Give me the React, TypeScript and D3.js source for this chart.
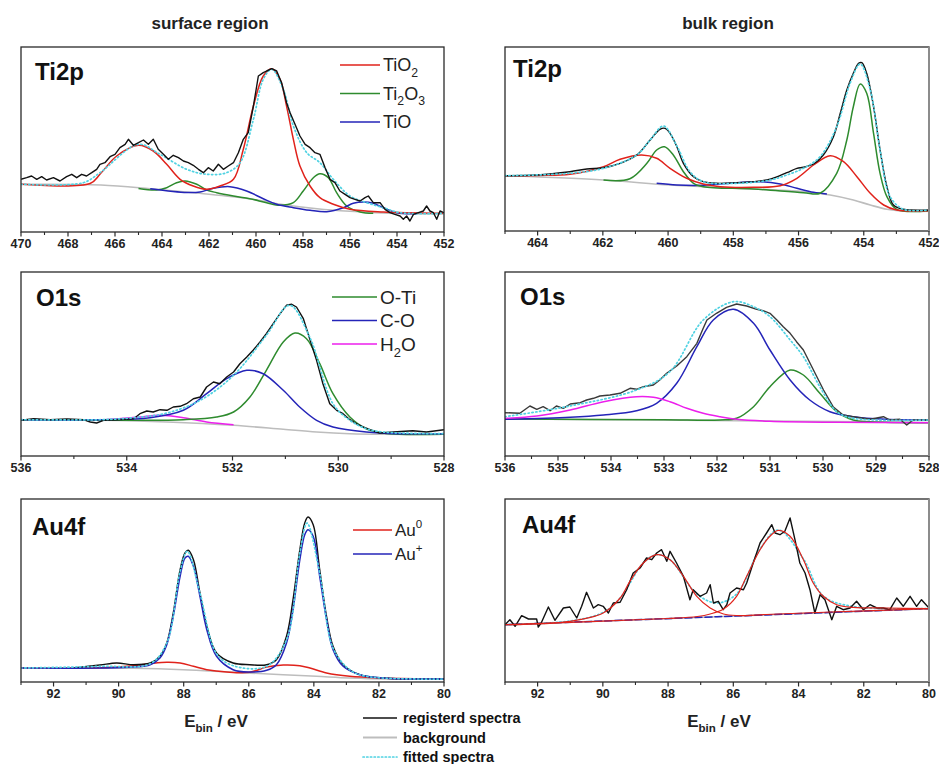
import React from "react";
import * as d3 from "d3";

type Pt = [number, number];

// ---------- surface Ti2p ----------
const surfTi2pBackground: Pt[] = [[470,47.7],[466.6,47],[464.5,43.3],[462.4,38.7],[460.3,33.3],[458.8,27.3],[457.4,23.3],[456.0,20.7],[454.6,19],[452,18]];
const surfTi2pTiO2: Pt[] = [[470,47.7],[467.06,48.5],[466.64,57.7],[465.93,76],[465.0,86.7],[464.37,81],[463.8,67.7],[463.23,52.7],[462.67,46],[462.1,42.7],[461.53,46],[460.96,52.7],[460.54,82.7],[460.11,126],[459.69,156],[459.33,163.3],[458.98,152.7],[458.7,126],[458.41,92.7],[458.13,66],[457.7,46],[457.28,34.3],[456.71,27.7],[456.0,22.7],[454.58,20],[452,18.7]];
const surfTi2pTi2O3: Pt[] = [[465,43.5],[464.23,42],[463.8,44.3],[463.38,49.3],[463.02,51],[462.52,47.7],[462.1,42],[461.67,39.3],[460.96,36],[460.26,33.3],[459.55,29.3],[458.98,26.7],[458.41,29.3],[457.99,41],[457.56,54.3],[457.28,58.3],[456.92,54.3],[456.57,39.3],[456.14,26],[455.57,20],[455.01,18.7]];
const surfTi2pTiO: Pt[] = [[464.5,43.3],[462.95,39.5],[462.38,40],[461.82,43.7],[461.11,45.3],[460.4,41],[459.69,33.3],[459.12,27.7],[458.41,24.3],[457.7,21.7],[456.99,20.3],[456.28,24.3],[455.86,28.7],[455.43,30],[455.01,28.7],[454.58,24.3],[454.01,19.3],[453.16,18.3]];
const surfTi2pFit: Pt[] = [[470,47.7],[467.35,49.3],[466.64,59.3],[465.0,87.7],[464.09,77.7],[462.95,62.7],[462.1,57.7],[461.25,59.3],[460.68,69.3],[460.11,112.7],[459.69,152.7],[459.33,162.7],[458.84,142.7],[458.41,106],[457.84,79.3],[457.28,69.3],[456.71,52.7],[456.0,36],[455.29,29.3],[454.58,24.3],[453.87,19.3],[452,18.7]];
const surfTi2pRegistered: Pt[] = [[470.0,52.7],[469.76,54.3],[469.55,56],[469.33,52.7],[469.12,55.3],[468.91,52],[468.62,54.3],[468.34,51],[468.06,55.3],[467.84,57.7],[467.63,54.3],[467.42,57.7],[467.21,56],[466.99,59.3],[466.78,62.7],[466.64,67.7],[466.43,69.3],[466.21,75.3],[466.0,77.7],[465.79,84.3],[465.57,87.7],[465.43,92.7],[465.22,86.7],[465.0,89.3],[464.79,92],[464.58,87.7],[464.37,92.7],[464.16,82.7],[463.94,77.7],[463.73,72.7],[463.52,76.7],[463.3,74.3],[463.09,71],[462.88,69.3],[462.67,66.7],[462.45,62.7],[462.24,59.3],[462.03,64.3],[461.82,61],[461.6,67.7],[461.39,62.7],[461.18,66],[460.96,69.3],[460.75,79.3],[460.54,92.7],[460.33,99.3],[460.11,126],[459.9,156],[459.69,159.3],[459.55,161],[459.33,163.3],[459.12,161],[458.91,149.3],[458.7,129.3],[458.55,119.3],[458.34,107.7],[458.13,96],[457.91,87.7],[457.7,84.3],[457.49,79.3],[457.28,77.7],[457.06,64.3],[456.85,52.7],[456.64,49.3],[456.43,41],[456.21,37.7],[456.0,34.3],[455.79,32.7],[455.57,31],[455.36,34.3],[455.22,36],[455.01,29.3],[454.72,29.3],[454.51,22.7],[454.3,19.3],[454.09,17.7],[453.87,16],[453.73,12.7],[453.59,16],[453.45,11],[453.3,17.7],[453.09,19.3],[452.88,21],[452.74,26],[452.6,21],[452.45,19.3],[452.31,12.7],[452.17,21],[452.0,19.3]];

// ---------- bulk Ti2p ----------
const bulkTi2pBackground: Pt[] = [[465,55.3],[461.98,51],[459.94,46],[457.89,42.7],[455.85,39.3],[455.03,36],[454.32,31],[453.8,26],[453.29,21.7],[452.78,20],[452,19.7]];
const bulkTi2pTiO2: Pt[] = [[465,55.3],[464,55.6],[463.01,56.7],[461.98,64.3],[461.47,71.7],[460.81,76],[460.35,72.7],[459.94,62.7],[459.43,52.7],[458.92,47],[458.4,44.3],[457.38,43.7],[456.56,45.3],[456.05,52.7],[455.54,66],[455.03,75.3],[454.62,69.3],[454.21,54.3],[453.8,37.7],[453.39,26],[452.99,21],[452,20.3]];
const bulkTi2pTi2O3: Pt[] = [[461.98,51],[461.17,52.3],[460.65,67.7],[460.35,81],[460.11,84.3],[459.84,76],[459.53,59.3],[459.22,47.7],[458.92,44.3],[457.38,42],[455.85,38.3],[455.34,37.7],[454.83,57.7],[454.52,91],[454.32,124.3],[454.11,147],[453.91,137.7],[453.7,97.7],[453.5,57.7],[453.29,34.3],[452.99,21.7],[452,20.3]];
const bulkTi2pTiO: Pt[] = [[460.35,47.7],[459.73,46],[458.92,45.7],[457.89,48.3],[457.18,49.3],[456.56,47],[456.05,42.7],[455.54,38.7],[455.13,37]];
const bulkTi2pFit: Pt[] = [[465,55.3],[463.01,57.7],[461.98,62.7],[460.96,76],[460.55,91],[460.14,105],[459.73,85],[459.33,59.3],[458.92,49.3],[457.89,47.7],[456.87,51],[456.36,56],[455.85,62.7],[455.34,74.3],[454.83,104.3],[454.42,147.7],[454.11,167],[453.8,141],[453.5,81],[453.19,34.3],[452.78,21.7],[452,21]];
const bulkTi2pRegistered: Pt[] = [[465,55.3],[464.03,56],[463.01,59.3],[462.49,62],[461.98,63.3],[461.47,67.7],[460.96,76],[460.55,91],[460.25,101.7],[460.09,102.7],[459.94,97.7],[459.73,84.3],[459.53,67.7],[459.22,54.3],[458.92,49.3],[458.51,47.7],[457.89,48.3],[457.38,49.3],[456.87,51.7],[456.36,58.3],[456.05,62.7],[455.85,63.7],[455.54,67],[455.24,76],[454.93,94.3],[454.72,117.7],[454.52,141],[454.32,157.7],[454.16,167.7],[454.06,168.3],[453.91,157.7],[453.7,124.3],[453.5,81],[453.29,44.3],[453.09,26],[452.78,21.7],[452,21]];

// ---------- surface O1s ----------
const surfO1sBackground: Pt[] = [[536,36.3],[534.5,35.7],[533.24,34],[531.98,30.7],[531.04,26.7],[530.41,24],[529.78,22.3],[529.15,21.7],[528,21.7]];
const surfO1sOTi: Pt[] = [[536,36.3],[533.87,35.7],[532.93,36.3],[532.3,39],[531.98,44],[531.67,59],[531.36,85.7],[531.04,114],[530.82,123],[530.6,117.3],[530.35,92.3],[530.1,62.3],[529.78,39],[529.47,27.3],[529.15,23],[528.84,21.7],[528,21.7]];
const surfO1sCO: Pt[] = [[536,36.3],[534.5,36.3],[533.56,38.3],[532.93,45.7],[532.49,62.3],[532.11,77.3],[531.73,85.7],[531.42,82.3],[531.04,65.7],[530.73,49],[530.41,35.7],[530.1,29],[529.47,24],[528.84,22.3],[528,22.3]];
const surfO1sH2O: Pt[] = [[534.8,36],[534.31,36.5],[533.75,39],[533.37,40.7],[532.93,38.3],[532.49,34],[531.98,31.2]];
const surfO1sFit: Pt[] = [[536,36.3],[534.5,36.3],[533.87,38.3],[533.24,43],[532.61,55.7],[531.98,80.7],[531.36,120.7],[530.92,150.7],[530.54,119],[530.1,52.3],[529.78,35.7],[529.47,27.3],[529.15,24],[528,22.3]];
const surfO1sRegistered: Pt[] = [[536,35.7],[535.76,37.3],[535.45,36.3],[535.13,37],[534.82,36.3],[534.69,34],[534.57,33],[534.44,35.7],[534.19,36.3],[533.87,37.3],[533.75,42.3],[533.62,45],[533.5,44],[533.37,46.3],[533.24,45.7],[533.12,49],[532.99,49.7],[532.87,52.3],[532.74,57.3],[532.61,59],[532.49,69],[532.36,74],[532.24,72.3],[532.11,79],[531.98,84],[531.86,92.3],[531.73,99],[531.61,105.7],[531.48,114],[531.36,122.3],[531.23,132.3],[531.1,142.3],[530.98,150.7],[530.88,151.7],[530.79,149],[530.66,137.3],[530.54,117.3],[530.41,95.7],[530.29,72.3],[530.16,52.3],[530.03,45.7],[529.91,42.3],[529.78,36.3],[529.66,32.3],[529.53,29],[529.4,26.3],[529.22,23],[528.96,24],[528.59,25.3],[528.33,24],[528,26.3]];

// ---------- bulk O1s ----------
const bulkO1sBackground: Pt[] = [[536,37],[533.5,36.2],[531,35],[528,33.5]];
const bulkO1sOTi: Pt[] = [[536,37],[533,36.2],[531.94,36],[531.63,37.7],[531.31,49.3],[531.0,69.3],[530.62,86],[530.37,81],[530.06,62.7],[529.74,44.3],[529.43,36],[529.11,34.3],[528,33.3]];
const bulkO1sCO: Pt[] = [[536,36.7],[534.77,38.7],[534.14,41],[533.52,45.3],[533.14,52.7],[532.76,72.7],[532.38,109.3],[532.07,136],[531.69,146.7],[531.31,132.7],[531.0,106],[530.62,76],[530.25,56],[529.87,44.3],[529.43,39.3],[528.8,36.7],[528,36]];
const bulkO1sH2O: Pt[] = [[536,37.7],[535.4,40],[534.77,46],[534.14,54.3],[533.52,59.3],[533.2,58.7],[532.89,54.3],[532.57,47.7],[532.26,42.7],[531.94,39.3],[531.63,36.7],[531.0,34.7],[529.74,33.7],[528,33.3]];
const bulkO1sFit: Pt[] = [[536,39.3],[534.77,50],[533.52,66],[532.89,84.3],[532.26,136],[531.69,154.3],[531.31,149.3],[531.0,139.3],[530.62,116],[530.37,99.3],[530.06,69.3],[529.74,44.3],[529.43,37.7],[528,36]];
const bulkO1sRegistered: Pt[] = [[536,43.3],[535.72,42.7],[535.53,50],[535.4,46.7],[535.28,49.3],[535.15,45.3],[535.03,50],[534.9,47.7],[534.77,52],[534.58,53.3],[534.46,56],[534.33,57.7],[534.21,60],[534.02,61],[533.83,62.7],[533.64,67.7],[533.52,66.7],[533.39,69.3],[533.2,71],[533.08,76],[532.95,82.7],[532.76,90],[532.57,99.3],[532.38,112.7],[532.26,127.7],[532.19,136],[532.01,142.7],[531.82,148.7],[531.63,152],[531.44,150],[531.25,146.7],[531.13,145.3],[531.0,142.7],[530.87,136],[530.75,129.3],[530.62,122.7],[530.5,114.3],[530.37,106],[530.18,86],[529.99,66],[529.81,49.3],[529.62,41],[529.43,39.3],[529.11,36.7],[528.86,39.3],[528.74,36],[528.55,36.7],[528.42,31],[528.3,36],[528,36]];

// ---------- surface Au4f ----------
const surfAu4fBackground: Pt[] = [[93,14],[89.54,13.7],[88.01,12.3],[86.48,9.7],[84.94,7.3],[83.92,5.7],[82.9,4],[81.88,3],[80,3]];
const surfAu4fAu0: Pt[] = [[93,14],[90.57,14.3],[89.54,16.3],[89.03,18.3],[88.52,19.7],[88.11,19],[87.7,15.7],[87.29,12.3],[86.68,10],[85.97,9.7],[85.45,15],[84.94,17],[84.43,16.3],[84.12,14],[83.61,9],[82.9,5.7],[81.88,4],[80,3]];
const surfAu4fAuPlus: Pt[] = [[93,14],[90.57,14],[89.54,15],[89.03,17.3],[88.73,24],[88.52,37.3],[88.32,65.7],[88.11,105.7],[87.96,124],[87.86,125.7],[87.7,115.7],[87.5,85.7],[87.29,52.3],[86.99,25.7],[86.48,12.3],[85.97,10],[85.45,11.7],[85.15,17.3],[84.84,39],[84.64,72.3],[84.43,122.3],[84.28,147.3],[84.18,152.3],[84.02,145.7],[83.82,105.7],[83.61,62.3],[83.41,32.3],[83.1,15.7],[82.59,7.3],[81.88,4],[80,3]];
const surfAu4fFit: Pt[] = [[93,14],[90.57,15.7],[89.03,18.3],[88.52,39],[88.11,110.7],[87.89,130.7],[87.5,89],[86.99,28.3],[86.48,16.3],[85.45,15.7],[84.84,42.3],[84.43,129],[84.21,159],[83.82,109],[83.41,34],[82.9,12.3],[82.39,5.7],[80,3]];
const surfAu4fRegistered: Pt[] = [[91.38,14],[90.57,17],[90.06,19],[89.54,17.3],[89.03,19],[88.73,25.7],[88.52,39],[88.32,69],[88.11,112.3],[87.96,129],[87.86,131.7],[87.7,122.3],[87.5,89],[87.29,55.7],[86.99,29],[86.48,19],[85.97,17.3],[85.45,17.3],[85.15,22.3],[84.84,45.7],[84.64,82.3],[84.43,132.3],[84.28,159],[84.18,165],[84.02,157.3],[83.82,112.3],[83.61,65.7],[83.41,35.7],[83.1,17.3],[82.59,7.3],[81.88,4],[80,3]];

// ---------- bulk Au4f ----------
const bulkAu4fBackground: Pt[] = [[93,57.3],[86.5,65.3],[80,73.3]];
const bulkAu4fAuPlus: Pt[] = [[93,57.3],[86.5,65.3],[80,73.3]];
const bulkAu4fAu0a: Pt[] = [[93,57.3],[91.01,60.7],[89.99,69],[89.47,84],[89.17,100.7],[88.76,119],[88.35,127.3],[87.94,122.3],[87.53,105.7],[87.12,85.7],[86.71,74],[86.3,68],[85.9,66.5],[85,67.5],[83,70],[80,73.3]];
const bulkAu4fAu0b: Pt[] = [[93,57.3],[88,63.5],[87.1,65.5],[86.71,68],[86.3,73],[85.9,85.7],[85.59,105.7],[85.18,132.3],[84.88,145.7],[84.62,151.7],[84.26,145.7],[83.85,122.3],[83.55,99],[83.24,85.7],[82.83,77.3],[82.32,74.7],[81.3,74],[80,73.3]];
const bulkAu4fFit: Pt[] = [[93,57.3],[91,61],[90,69.5],[89.47,84],[88.76,119],[88.35,127.3],[87.94,122.3],[87.12,88],[86.5,79],[85.9,88],[85.18,133],[84.62,152],[83.85,123],[83.24,86],[82.32,75.5],[80,73.5]];
const bulkAu4fRegistered: Pt[] = [[93,57.3],[92.85,62.3],[92.69,55.7],[92.49,66.3],[92.28,63],[92.03,63],[91.98,55],[91.88,59.7],[91.67,75],[91.47,61.7],[91.21,74],[91.01,75],[90.8,64],[90.65,75.7],[90.5,89.7],[90.29,74],[90.14,77.3],[89.99,75.7],[89.83,69],[89.68,79],[89.47,79.7],[89.27,92.3],[89.07,109],[88.86,114],[88.66,124],[88.5,122.3],[88.35,129],[88.2,132.3],[88.04,120.7],[87.94,130.7],[87.74,119],[87.53,105.7],[87.33,82.3],[87.23,92.3],[87.02,85.7],[86.82,89],[86.71,97.3],[86.61,79],[86.46,80.7],[86.31,72.3],[86.2,77.3],[86.1,89],[85.9,94],[85.69,92.3],[85.59,99],[85.39,119],[85.18,139],[84.98,149],[84.82,157.3],[84.72,149],[84.57,147.3],[84.42,150.7],[84.26,164],[84.11,142.3],[83.96,119],[83.8,109],[83.65,92.3],[83.5,69],[83.34,87.3],[83.19,82.3],[82.98,62.3],[82.83,75.7],[82.63,72.3],[82.42,74],[82.22,80.7],[82.01,72.3],[81.81,77.3],[81.6,74],[81.4,74],[81.2,72.3],[80.99,84],[80.79,75.7],[80.58,85.7],[80.38,75.7],[80.23,82.3],[80,74]];

// ---------- tick labels ----------
const surfTi2pTicks = [470, 468, 466, 464, 462, 460, 458, 456, 454, 452];
const bulkTi2pTicks = [464, 462, 460, 458, 456, 454, 452];
const surfO1sTicks = [536, 534, 532, 530, 528];
const bulkO1sTicks = [536, 535, 534, 533, 532, 531, 530, 529, 528];
const au4fTicks = [92, 90, 88, 86, 84, 82, 80];

const C = {
  black: "#111111",
  bg: "#bdbdbd",
  fit: "#4fd2e2",
  red: "#e0221b",
  green: "#2e8b2e",
  blue: "#2424b8",
  magenta: "#ec1fec",
};

const FONT = "'Liberation Sans', Arial, Helvetica, sans-serif";

type Series = { data: Pt[]; color: string; width: number; dash?: string; smooth: boolean };
type LegendItem = { color: string; parts: { t: string; sub?: boolean; sup?: boolean }[] };
type Panel = {
  x0: number; x1: number; y0: number; y1: number;
  domain: [number, number]; yMax: number;
  ticks: number[]; minorStep: number;
  label: string; labelX: number; labelY: number;
  series: Series[];
  legend?: { x: number; y: number; gap: number; len: number; fontSize: number; items: LegendItem[] };
  grayRight?: boolean;
};

const bgS = (d: Pt[]): Series => ({ data: d, color: C.bg, width: 1.6, smooth: true });
const comp = (d: Pt[], color: string): Series => ({ data: d, color, width: 1.5, smooth: true });
const reg = (d: Pt[], smooth = false): Series => ({ data: d, color: C.black, width: 1.4, smooth });
const fit = (d: Pt[]): Series => ({ data: d, color: C.fit, width: 1.7, dash: "1.3 2.6", smooth: true });

const panels: Panel[] = [
  {
    x0: 21, x1: 444, y0: 47, y1: 232, domain: [470, 452], yMax: 185,
    ticks: surfTi2pTicks, minorStep: 1, label: "Ti2p", labelX: 35, labelY: 80,
    series: [bgS(surfTi2pBackground), comp(surfTi2pTi2O3, C.green), comp(surfTi2pTiO, C.blue), comp(surfTi2pTiO2, C.red), fit(surfTi2pFit), reg(surfTi2pRegistered)],
    legend: { x: 340, y: 65, gap: 28.5, len: 40, fontSize: 18, items: [
      { color: C.red, parts: [{ t: "TiO" }, { t: "2", sub: true }] },
      { color: C.green, parts: [{ t: "Ti" }, { t: "2", sub: true }, { t: "O" }, { t: "3", sub: true }] },
      { color: C.blue, parts: [{ t: "TiO" }] },
    ] },
  },
  {
    x0: 505, x1: 929, y0: 47, y1: 231, domain: [465, 452], yMax: 184,
    ticks: bulkTi2pTicks, minorStep: 1, label: "Ti2p", labelX: 513, labelY: 77, grayRight: true,
    series: [bgS(bulkTi2pBackground), comp(bulkTi2pTiO, C.blue), comp(bulkTi2pTi2O3, C.green), comp(bulkTi2pTiO2, C.red), reg(bulkTi2pRegistered, true), fit(bulkTi2pFit)],
  },
  {
    x0: 21, x1: 444, y0: 272, y1: 456, domain: [536, 528], yMax: 184,
    ticks: surfO1sTicks, minorStep: 1, label: "O1s", labelX: 36, labelY: 306,
    series: [bgS(surfO1sBackground), comp(surfO1sH2O, C.magenta), comp(surfO1sOTi, C.green), comp(surfO1sCO, C.blue), reg(surfO1sRegistered), fit(surfO1sFit)],
    legend: { x: 332, y: 297, gap: 23.5, len: 45, fontSize: 19, items: [
      { color: C.green, parts: [{ t: "O-Ti" }] },
      { color: C.blue, parts: [{ t: "C-O" }] },
      { color: C.magenta, parts: [{ t: "H" }, { t: "2", sub: true }, { t: "O" }] },
    ] },
  },
  {
    x0: 505, x1: 929, y0: 272, y1: 456, domain: [536, 528], yMax: 184,
    ticks: bulkO1sTicks, minorStep: 0.5, label: "O1s", labelX: 520, labelY: 305, grayRight: true,
    series: [bgS(bulkO1sBackground), comp(bulkO1sOTi, C.green), comp(bulkO1sCO, C.blue), comp(bulkO1sH2O, C.magenta), { ...reg(bulkO1sRegistered), color: "#3a3a3a" }, fit(bulkO1sFit)],
  },
  {
    x0: 21, x1: 444, y0: 499, y1: 682, domain: [93, 80], yMax: 183,
    ticks: au4fTicks, minorStep: 1, label: "Au4f", labelX: 32, labelY: 535,
    series: [bgS(surfAu4fBackground), comp(surfAu4fAu0, C.red), reg(surfAu4fRegistered, true), comp(surfAu4fAuPlus, C.blue), fit(surfAu4fFit)],
    legend: { x: 353, y: 530, gap: 24, len: 39, fontSize: 17, items: [
      { color: C.red, parts: [{ t: "Au" }, { t: "0", sup: true }] },
      { color: C.blue, parts: [{ t: "Au" }, { t: "+", sup: true }] },
    ] },
  },
  {
    x0: 505, x1: 929, y0: 499, y1: 682, domain: [93, 80], yMax: 183,
    ticks: au4fTicks, minorStep: 1, label: "Au4f", labelX: 522, labelY: 533, grayRight: true,
    series: [bgS(bulkAu4fBackground), { ...comp(bulkAu4fAuPlus, C.blue), dash: "7 3" }, fit(bulkAu4fFit), reg(bulkAu4fRegistered), { ...comp(bulkAu4fAu0a, C.red), width: 1.2 }, { ...comp(bulkAu4fAu0b, C.red), width: 1.2 }],
  },
];

function LegendText({ x, y, fontSize, parts }: { x: number; y: number; fontSize: number; parts: LegendItem["parts"] }) {
  const small = fontSize * 0.68;
  let shift = 0;
  return (
    <text x={x} y={y} fontFamily={FONT} fontSize={fontSize} fill="#222">
      {parts.map((p, i) => {
        let dy = 0;
        const target = p.sub ? fontSize * 0.3 : p.sup ? -fontSize * 0.45 : 0;
        dy = target - shift;
        shift = target;
        return (
          <tspan key={i} dy={dy} fontSize={p.sub || p.sup ? small : fontSize}>{p.t}</tspan>
        );
      })}
    </text>
  );
}

function SpectrumPanel({ p }: { p: Panel }) {
  const x = d3.scaleLinear().domain(p.domain).range([p.x0, p.x1]);
  const y = d3.scaleLinear().domain([0, p.yMax]).range([p.y1, p.y0]);
  const hi = p.domain[0], lo = p.domain[1];
  const minor = d3.range(lo, hi + 1e-6, p.minorStep).filter((v) => !p.ticks.some((t) => Math.abs(t - v) < 1e-6));
  const clipId = `clip-${p.x0}-${p.y0}`;
  return (
    <g>
      <defs>
        <clipPath id={clipId}>
          <rect x={p.x0} y={p.y0} width={p.x1 - p.x0} height={p.y1 - p.y0} />
        </clipPath>
      </defs>
      <g clipPath={`url(#${clipId})`}>
        {p.series.map((s, i) => {
          const line = d3.line<Pt>().x((d) => x(d[0])).y((d) => y(d[1]))
            .curve(s.smooth ? d3.curveCatmullRom.alpha(0.5) : d3.curveLinear);
          return (
            <path key={i} d={line(s.data) || ""} fill="none" stroke={s.color} strokeWidth={s.width}
              strokeDasharray={s.dash} strokeLinejoin="round" strokeLinecap={s.dash ? "round" : "butt"} />
          );
        })}
      </g>
      <rect x={p.x0} y={p.y0} width={p.x1 - p.x0} height={p.y1 - p.y0} fill="none" stroke="#2a2a2a" strokeWidth={1.3} />
      {p.grayRight && <line x1={p.x1} x2={p.x1} y1={p.y0} y2={p.y1} stroke="#8c8c8c" strokeWidth={2} />}
      {p.ticks.map((t) => (
        <g key={t}>
          <line x1={x(t)} x2={x(t)} y1={p.y1} y2={p.y1 + 4.5} stroke="#2a2a2a" strokeWidth={1.2} />
          <text x={x(t)} y={p.y1 + 16} textAnchor="middle" fontFamily={FONT} fontWeight="bold" fontSize={12.5} fill="#222">{t}</text>
        </g>
      ))}
      {minor.map((t) => (
        <line key={`m${t}`} x1={x(t)} x2={x(t)} y1={p.y1} y2={p.y1 + 3} stroke="#2a2a2a" strokeWidth={1.1} />
      ))}
      <text x={p.labelX} y={p.labelY} fontFamily={FONT} fontWeight="bold" fontSize={24} fill="#111">{p.label}</text>
      {p.legend && p.legend.items.map((it, i) => {
        const ly = p.legend!.y + i * p.legend!.gap;
        return (
          <g key={i}>
            <line x1={p.legend!.x} x2={p.legend!.x + p.legend!.len} y1={ly} y2={ly} stroke={it.color} strokeWidth={1.5} />
            <LegendText x={p.legend!.x + p.legend!.len + 3} y={ly + p.legend!.fontSize * 0.36} fontSize={p.legend!.fontSize} parts={it.parts} />
          </g>
        );
      })}
    </g>
  );
}

const bottomLegend = [
  { label: "registerd spectra", color: C.black, dash: undefined as string | undefined, width: 1.6 },
  { label: "background", color: C.bg, dash: undefined as string | undefined, width: 1.8 },
  { label: "fitted spectra", color: C.fit, dash: "1.3 2.4", width: 1.7 },
];

function AxisTitle({ cx, y }: { cx: number; y: number }) {
  return (
    <text x={cx} y={y} textAnchor="middle" fontFamily={FONT} fontWeight="bold" fontSize={17} fill="#222">
      <tspan>E</tspan>
      <tspan dy={5} fontSize={11.5}>bin</tspan>
      <tspan dy={-5}> / eV</tspan>
    </text>
  );
}

export default function App() {
  return (
    <svg width={939} height={764} viewBox="0 0 939 764" style={{ position: "absolute", left: 0, top: 0, background: "#fff" }}>
      <rect x={0} y={0} width={939} height={764} fill="#fff" />
      <text x={210} y={29} textAnchor="middle" fontFamily={FONT} fontWeight="bold" fontSize={17} fill="#222">surface region</text>
      <text x={728} y={29} textAnchor="middle" fontFamily={FONT} fontWeight="bold" fontSize={17} fill="#222">bulk region</text>
      {panels.map((p, i) => <SpectrumPanel key={i} p={p} />)}
      <AxisTitle cx={216} y={727} />
      <AxisTitle cx={719} y={727} />
      {bottomLegend.map((b, i) => {
        const ly = 718 + i * 19.5;
        return (
          <g key={b.label}>
            <line x1={363} x2={397} y1={ly} y2={ly} stroke={b.color} strokeWidth={b.width} strokeDasharray={b.dash} strokeLinecap={b.dash ? "round" : "butt"} />
            <text x={403} y={ly + 5} fontFamily={FONT} fontWeight="bold" fontSize={14.5} fill="#111">{b.label}</text>
          </g>
        );
      })}
    </svg>
  );
}
